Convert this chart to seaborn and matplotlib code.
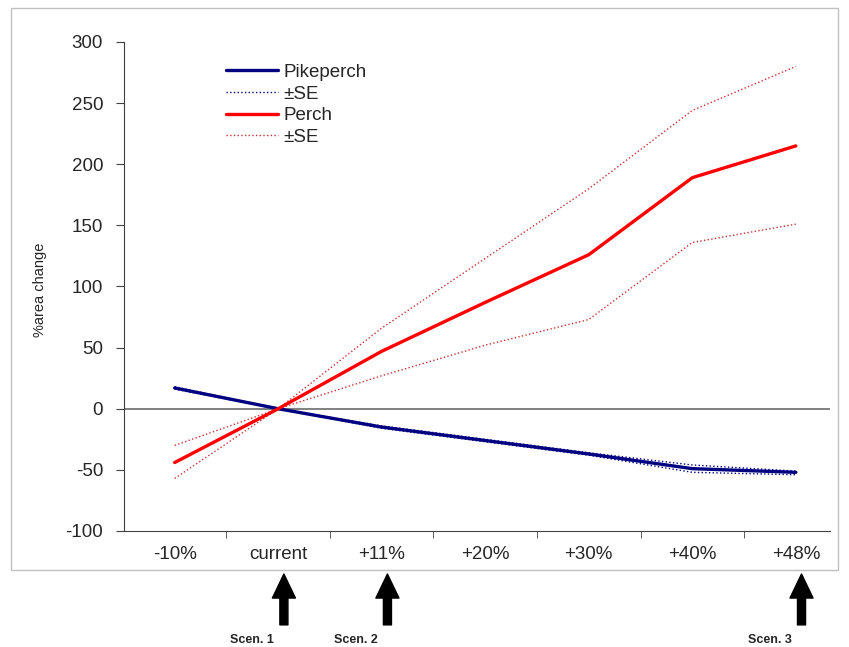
import numpy as np
import pandas as pd
import matplotlib.pyplot as plt
import seaborn as sns
from matplotlib.lines import Line2D
from matplotlib.patches import Rectangle

scenarios = ["-10%", "current", "+11%", "+20%", "+30%", "+40%", "+48%"]
pikeperch = [17, 0, -15, -26, -37, -49, -52]
pikeperch_se_hi = [18, 0, -14, -25, -36, -46, -51]
pikeperch_se_lo = [16, 0, -16, -27, -38, -52, -54]
perch = [-44, 0, 47, 87, 126, 189, 215]
perch_se_hi = [-30, 0, 66, 123, 180, 244, 280]
perch_se_lo = [-57, 0, 27, 52, 73, 136, 151]
yticks = [-100, -50, 0, 50, 100, 150, 200, 250, 300]
scen_marks = [("current", "Scen. 1"), ("+11%", "Scen. 2"), ("+48%", "Scen. 3")]

navy = "#000080"
red = "#ff0000"
red_se = "#c83232"

sns.set_style("white")
plt.rcParams["font.family"] = ["Liberation Sans", "DejaVu Sans"]

fig = plt.figure(figsize=(8.49, 6.47), dpi=100)
ax = fig.add_axes([0.146, 0.1793, 0.8316, 0.7558])

x = np.arange(len(scenarios))
series = [
    (pikeperch_se_hi, navy, ":", 1.0),
    (pikeperch_se_lo, navy, ":", 1.0),
    (perch_se_hi, red_se, ":", 1.0),
    (perch_se_lo, red_se, ":", 1.0),
    (pikeperch, navy, "-", 2.4),
    (perch, red, "-", 2.4),
]
for vals, col, ls, lw in series:
    sns.lineplot(x=x, y=vals, ax=ax, color=col, linestyle=ls, linewidth=lw)

ax.axhline(0, color="#808080", linewidth=1.4, zorder=0)

ax.set_yticks(yticks)
ax.set_yticklabels([str(v) for v in yticks], fontsize=13.5)
ax.set_xticks(x)
ax.set_xticklabels(scenarios, fontsize=13.5)
ax.set_xticks(x[:-1] + 0.5, minor=True)
ax.set_xlim(-0.49, 6.33)
ax.set_ylim(-100, 300)
ax.tick_params(axis="x", which="major", length=0, pad=11)
ax.tick_params(axis="x", which="minor", length=5, direction="out", color="#404040", bottom=True)
ax.tick_params(axis="y", length=6, direction="out", color="#404040", left=True, pad=9)
for s in ["top", "right"]:
    ax.spines[s].set_visible(False)
ax.spines["left"].set_color("#404040")
ax.spines["bottom"].set_color("#404040")
ax.set_ylabel("%area change", fontsize=10.5)
ax.yaxis.set_label_coords(-0.109, 0.493)
ax.set_xlabel("")

handles = [
    Line2D([], [], color=navy, linewidth=2.4),
    Line2D([], [], color=navy, linestyle=":", linewidth=1.0),
    Line2D([], [], color=red, linewidth=2.4),
    Line2D([], [], color=red_se, linestyle=":", linewidth=1.0),
]
ax.legend(handles, ["Pikeperch", "\u00b1SE", "Perch", "\u00b1SE"], loc="upper left",
          bbox_to_anchor=(0.12, 0.99), frameon=False, fontsize=13.5,
          handlelength=2.8, handletextpad=0.3, labelspacing=0.24)

# scenario arrows below the axis
for cat, lab in scen_marks:
    xi = scenarios.index(cat)
    ax.annotate("", xy=(xi + 0.055, -0.088), xytext=(xi + 0.055, -0.192),
                xycoords=("data", "axes fraction"), textcoords=("data", "axes fraction"),
                annotation_clip=False,
                arrowprops=dict(arrowstyle="simple,head_width=1.66,head_length=1.73,tail_width=0.58",
                                color="black", shrinkA=0, shrinkB=0))
    ax.text(xi - 0.25, -0.223, lab, transform=ax.get_xaxis_transform(), fontsize=9,
            fontweight="bold", ha="center", va="center", clip_on=False)

fig.patches.append(Rectangle((11 / 849, 1 - 570 / 647), 827 / 849, 562 / 647,
                             transform=fig.transFigure, fill=False,
                             edgecolor="#c0c0c0", linewidth=1.0))

fig.savefig("out.png", dpi=100)
